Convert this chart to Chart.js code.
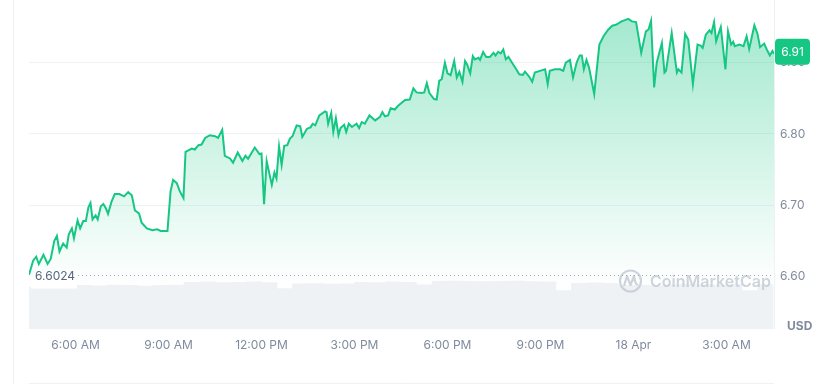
<!DOCTYPE html>
<html>
<head>
<meta charset="utf-8">
<script src="https://cdn.jsdelivr.net/npm/chart.js@4.4.0/dist/chart.umd.min.js"></script>
<style>
  html, body { margin: 0; padding: 0; background: #fff; }
</style>
</head>
<body>
<canvas id="priceChart" width="840" height="384"></canvas>
<script>
// minutes since 4:30 AM, 17 Apr
const minutes = [0,8,14,19,28,36,42,49,54,59,66,73,77,83,87,94,99,105,110,115,119,123,129,133,139,144,149,153,160,166,
  175,184,192,199,205,213,218,228,239,248,255,268,274,279,286,292,299,303,315,321,328,334,341,350,360,366,374,379,389,395,
  404,413,419,424,437,446,450,455,460,470,475,479,484,489,494,500,505,510,518,525,529,538,545,549,554,562,573,576,579,585,
  589,594,599,603,610,614,619,625,634,639,644,650,659,670,679,684,689,695,700,708,715,728,737,744,750,760,765,770,775,784,
  789,794,799,805,810,816,823,828,833,839,844,848,854,859,863,870,873,879,885,892,899,903,908,913,918,923,928,935,941,949,
  956,960,968,974,979,989,999,1004,1008,1018,1028,1034,1039,1047,1053,1060,1066,1070,1074,1079,1084,1094,1104,1112,1121,1129,1136,1147,1160,1167,
  1175,1185,1194,1199,1204,1210,1215,1225,1230,1233,1244,1254,1257,1263,1270,1276,1285,1294,1300,1304,1310,1317,1321,1326,1330,1339,1348,1353,1359,1363,
  1366,1375,1383,1389,1394,1404,1410,1415,1423,1428,1434,1439,1442];

const prices = [6.6024,6.6222,6.6278,6.6176,6.6306,6.6176,6.6246,6.6500,6.6569,6.6351,
  6.6463,6.6407,6.6593,6.6676,6.6538,6.6788,6.6676,6.6778,6.6778,6.6972,
  6.7032,6.6801,6.6857,6.6801,6.6986,6.7018,6.6954,6.6879,6.7056,6.7157,
  6.7157,6.7125,6.7185,6.7139,6.6926,6.6885,6.6754,6.6676,6.6649,6.6663,
  6.6639,6.6639,6.7194,6.7357,6.7310,6.7194,6.7101,6.7750,6.7796,6.7782,
  6.7843,6.7851,6.7944,6.7982,6.7968,6.7944,6.8060,6.7694,6.7657,6.7597,
  6.7740,6.7621,6.7694,6.7653,6.7810,6.7718,6.7726,6.7014,6.7621,6.7285,
  6.7458,6.7375,6.7826,6.7565,6.7833,6.7843,6.7935,6.7968,6.8121,6.8107,
  6.7958,6.8074,6.8093,6.8143,6.8121,6.8260,6.8315,6.8306,6.8143,6.8296,
  6.8028,6.8222,6.7982,6.8083,6.8129,6.8028,6.8143,6.8097,6.8143,6.8083,
  6.8167,6.8143,6.8260,6.8190,6.8236,6.8306,6.8246,6.8260,6.8361,6.8343,
  6.8399,6.8476,6.8482,6.8639,6.8583,6.8574,6.8583,6.8713,6.8574,6.8490,
  6.8482,6.8746,6.8768,6.9000,6.8851,6.8824,6.9024,6.8792,6.8871,6.8732,
  6.9024,6.8976,6.8851,6.9093,6.9046,6.9069,6.9038,6.9149,6.9079,6.9079,
  6.9139,6.9101,6.9153,6.9129,6.9185,6.9046,6.9083,6.9000,6.8931,6.8838,
  6.8829,6.8875,6.8806,6.8732,6.8861,6.8885,6.8907,6.8699,6.8885,6.8907,
  6.8907,6.8885,6.9000,6.9038,6.8792,6.9000,6.9101,6.9101,6.8907,6.9038,
  6.8931,6.8560,6.9254,6.9371,6.9463,6.9518,6.9532,6.9579,6.9615,6.9579,
  6.9569,6.9139,6.9440,6.9463,6.9588,6.8653,6.9000,6.9278,6.8861,6.8885,
  6.9417,6.8861,6.8907,6.8861,6.9403,6.9324,6.8699,6.9254,6.9240,6.9208,
  6.9393,6.9454,6.9417,6.9569,6.9301,6.9500,6.8907,6.9440,6.9254,6.9292,
  6.9232,6.9254,6.9232,6.9371,6.9194,6.9524,6.9407,6.9218,6.9268,6.9185,
  6.9101,6.9163,6.9125];

// volume, one bar per 30 min (millions USD)
const volumes = [133,131,134,138,137,139,138,136,138,139,148,149,147,148,149,147,128,143,144,142,143,148,147,149,148,
  140,151,152,151,150,151,152,150,149,122,145,146,145,138,139,137,141,142,141,140,142,122,141];

const tickMinutes = [90, 270, 450, 630, 810, 990, 1170, 1350];
const tickLabels = ['6:00 AM', '9:00 AM', '12:00 PM', '3:00 PM', '6:00 PM', '9:00 PM', '18 Apr', '3:00 AM'];
const priceTicks = [6.6, 6.7, 6.8, 6.9];
const lowPrice = 6.6024;
const lastPrice = prices[prices.length - 1];

const green = '#16c784';
const font = 'Inter, "Noto Sans", sans-serif';

const extras = {
    id: 'extras',
    afterDatasetsDraw(chart) {
        const {ctx} = chart;
        // watermark
        ctx.save();
        ctx.strokeStyle = 'rgba(190,197,208,0.75)';
        ctx.lineWidth = 2.2;
        ctx.lineJoin = 'round';
        ctx.beginPath();
        ctx.arc(630.5, 281, 10.5, 0, Math.PI * 2);
        ctx.stroke();
        ctx.beginPath();
        ctx.moveTo(624, 286);
        ctx.lineTo(627, 276);
        ctx.lineTo(630.5, 285);
        ctx.lineTo(634, 276);
        ctx.quadraticCurveTo(635.5, 286, 638, 284);
        ctx.stroke();
        ctx.fillStyle = 'rgba(190,197,208,0.75)';
        ctx.font = '600 16px ' + font;
        ctx.textBaseline = 'middle';
        ctx.fillText('CoinMarketCap', 650, 282);
        ctx.restore();
    },
    afterDraw(chart) {
        const {ctx, chartArea: a, scales: {y}} = chart;
        ctx.save();
        // frame lines
        ctx.strokeStyle = '#eff2f5';
        ctx.lineWidth = 1;
        ctx.beginPath();
        ctx.moveTo(13.5, 0); ctx.lineTo(13.5, 384);
        ctx.moveTo(a.left, 383.5); ctx.lineTo(a.right, 383.5);
        ctx.moveTo(a.right + 0.5, 0); ctx.lineTo(a.right + 0.5, a.bottom);
        ctx.stroke();

        // low price line + label
        const ly = Math.round(y.getPixelForValue(lowPrice)) + 0.5;
        ctx.fillStyle = '#fff';
        ctx.fillRect(a.left + 2, ly + 1, 46, 12);
        ctx.strokeStyle = '#a1a7bb';
        ctx.setLineDash([1, 3]);
        ctx.beginPath();
        ctx.moveTo(a.left + 49, ly); ctx.lineTo(a.right, ly);
        ctx.stroke();
        ctx.setLineDash([]);
        ctx.fillStyle = '#58667e';
        ctx.font = '12px ' + font;
        ctx.textBaseline = 'middle';
        ctx.textAlign = 'left';
        ctx.fillText(lowPrice.toFixed(4), a.left + 6, ly + 0.5);

        // current price tag
        const py = y.getPixelForValue(lastPrice) - 2;
        ctx.fillStyle = green;
        ctx.beginPath();
        ctx.roundRect(a.right + 1, py - 13, 35, 26, 4);
        ctx.fill();
        ctx.fillStyle = '#fff';
        ctx.textAlign = 'center';
        ctx.fillText(lastPrice.toFixed(2), a.right + 18.5, py + 0.5);

        // currency
        ctx.fillStyle = '#808a9d';
        ctx.font = 'bold 12px ' + font;
        ctx.textAlign = 'left';
        ctx.fillText('USD', 787, 326);
        ctx.restore();
    }
};

new Chart(document.getElementById('priceChart'), {
    type: 'line',
    data: {
        datasets: [
            {
                type: 'bar',
                label: 'Volume',
                data: volumes.map((v, i) => ({x: 15 + i * 30, y: v})),
                yAxisID: 'yv',
                backgroundColor: '#eff2f5',
                barPercentage: 1,
                categoryPercentage: 1,
                order: 0
            },
            {
                label: 'Price',
                data: minutes.map((m, i) => ({x: m, y: prices[i]})),
                yAxisID: 'y',
                borderColor: green,
                borderWidth: 2,
                pointRadius: 0,
                tension: 0,
                fill: 'start',
                backgroundColor: function(context) {
                    const {ctx, chartArea} = context.chart;
                    if (!chartArea) return 'rgba(22,199,132,0.2)';
                    const g = ctx.createLinearGradient(0, chartArea.top, 0, chartArea.bottom - 44);
                    g.addColorStop(0, 'rgba(22,199,132,0.40)');
                    g.addColorStop(1, 'rgba(22,199,132,0.0)');
                    return g;
                },
                order: 1
            }
        ]
    },
    options: {
        responsive: false,
        animation: false,
        layout: {padding: {top: 10, left: 29, right: 0, bottom: 0}},
        scales: {
            x: {
                type: 'linear',
                min: 0,
                max: 1442,
                offset: false,
                grid: {display: false, drawTicks: false, offset: false},
                border: {display: false},
                afterBuildTicks: scale => { scale.ticks = tickMinutes.map(v => ({value: v})); },
                afterFit: scale => { scale.height = 55; },
                ticks: {
                    padding: 9,
                    maxRotation: 0,
                    autoSkip: false,
                    color: '#808a9d',
                    font: {family: font, size: 12},
                    callback: value => tickLabels[tickMinutes.indexOf(value)]
                }
            },
            y: {
                position: 'right',
                min: 6.5264,
                max: 6.9694,
                grid: {
                    drawTicks: false,
                    color: c => c.tick && c.tick.value === 6.6 ? 'rgba(0,0,0,0)' : '#eff2f5'
                },
                border: {display: false},
                afterBuildTicks: scale => { scale.ticks = priceTicks.map(v => ({value: v})); },
                afterFit: scale => { scale.width = 66; },
                ticks: {
                    padding: 6,
                    color: '#808a9d',
                    font: {family: font, size: 12},
                    callback: value => value.toFixed(2)
                }
            },
            yv: {
                display: false,
                min: 0,
                max: 1000
            }
        },
        plugins: {
            legend: {display: false},
            tooltip: {enabled: false}
        }
    },
    plugins: [extras]
});
</script>
</body>
</html>
